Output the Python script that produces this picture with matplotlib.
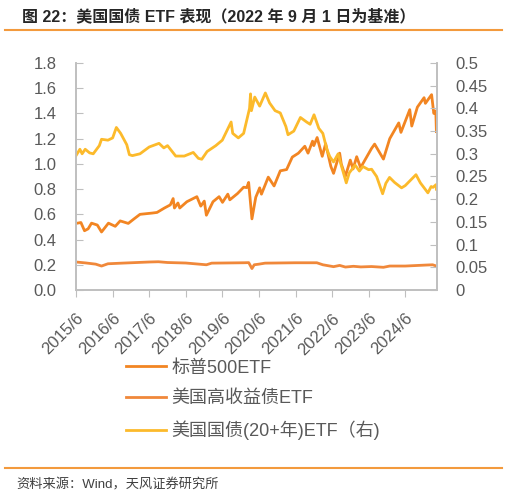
import matplotlib
matplotlib.use("Agg")
import matplotlib.pyplot as plt
import pandas as pd

plt.rcParams['font.family'] = ['Liberation Sans', 'Noto Sans CJK SC', 'DejaVu Sans']

# 标普500ETF（左轴）
spx_dates = ["2015-06-01", "2015-07-20", "2015-08-25", "2015-09-30", "2015-11-03", "2015-12-31",
             "2016-02-11", "2016-04-20", "2016-06-27", "2016-08-15", "2016-11-04", "2016-12-30",
             "2017-03-01", "2017-06-30", "2017-08-18", "2017-10-31", "2017-12-29", "2018-01-26",
             "2018-02-08", "2018-03-15", "2018-04-02", "2018-06-12", "2018-09-20", "2018-10-29",
             "2018-12-03", "2018-12-24", "2019-02-28", "2019-04-30", "2019-06-03", "2019-07-26",
             "2019-08-15", "2019-10-31", "2019-12-31", "2020-01-31", "2020-02-19", "2020-03-23",
             "2020-04-30", "2020-06-08", "2020-06-26", "2020-09-02", "2020-10-30", "2020-12-31",
             "2021-03-04", "2021-04-30", "2021-06-30", "2021-09-02", "2021-10-04", "2021-11-18",
             "2021-12-01", "2022-01-03", "2022-02-23", "2022-03-29", "2022-05-20", "2022-06-16",
             "2022-08-16", "2022-09-01", "2022-10-12", "2022-11-30", "2022-12-28", "2023-02-02",
             "2023-03-13", "2023-06-30", "2023-07-31", "2023-10-27", "2023-12-29", "2024-03-28",
             "2024-04-19", "2024-07-16", "2024-08-05", "2024-09-30", "2024-12-06", "2024-12-19",
             "2025-02-19", "2025-03-13", "2025-04-02", "2025-04-08"]
spx_values = [0.528, 0.535, 0.470, 0.485, 0.530, 0.515,
              0.460, 0.530, 0.505, 0.548, 0.528, 0.563,
              0.600, 0.610, 0.615, 0.650, 0.675, 0.725,
              0.650, 0.690, 0.650, 0.700, 0.740, 0.665,
              0.705, 0.593, 0.700, 0.740, 0.695, 0.760,
              0.715, 0.765, 0.815, 0.812, 0.853, 0.564,
              0.735, 0.810, 0.760, 0.895, 0.825, 0.945,
              0.955, 1.054, 1.085, 1.140, 1.085, 1.180,
              1.145, 1.209, 1.060, 1.160, 0.980, 0.925,
              1.085, 1.000, 0.902, 1.030, 0.960, 1.057,
              0.970, 1.122, 1.157, 1.038, 1.200, 1.325,
              1.250, 1.430, 1.300, 1.450, 1.525, 1.480,
              1.549, 1.400, 1.420, 1.256]

# 美国高收益债ETF（左轴）
hy_dates = ["2015-06-01", "2015-09-01", "2015-12-15", "2016-02-11", "2016-04-15", "2016-09-01",
            "2017-06-01", "2017-09-01", "2017-12-01", "2018-06-01", "2018-12-24", "2019-02-15",
            "2019-12-31", "2020-02-20", "2020-03-23", "2020-04-15", "2020-06-01", "2020-08-01",
            "2021-06-01", "2021-12-31", "2022-03-01", "2022-06-16", "2022-08-16", "2022-10-12",
            "2022-12-31", "2023-03-15", "2023-06-30", "2023-10-27", "2023-12-29", "2024-06-01",
            "2024-12-31", "2025-03-01", "2025-04-08"]
hy_values = [0.222, 0.215, 0.205, 0.190, 0.208, 0.213,
             0.222, 0.224, 0.218, 0.214, 0.200, 0.213,
             0.216, 0.217, 0.170, 0.200, 0.205, 0.213,
             0.216, 0.216, 0.200, 0.185, 0.195, 0.182,
             0.188, 0.183, 0.186, 0.180, 0.190, 0.190,
             0.198, 0.200, 0.190]

# 美国国债(20+年)ETF（右轴）
tlt_dates = ["2015-06-01", "2015-07-10", "2015-08-01", "2015-09-01", "2015-10-15", "2015-11-20",
             "2016-01-20", "2016-02-11", "2016-04-15", "2016-06-01", "2016-07-08", "2016-08-20",
             "2016-10-20", "2016-11-15", "2016-12-15", "2017-03-01", "2017-06-01", "2017-09-07",
             "2017-10-25", "2017-12-01", "2018-02-21", "2018-05-17", "2018-08-15", "2018-10-05",
             "2018-11-08", "2018-12-31", "2019-03-28", "2019-06-01", "2019-08-28", "2019-09-13",
             "2019-11-08", "2019-12-31", "2020-02-28", "2020-03-09", "2020-03-18", "2020-04-20",
             "2020-06-08", "2020-08-04", "2020-09-15", "2020-11-09", "2020-12-31", "2021-02-25",
             "2021-03-18", "2021-05-15", "2021-07-20", "2021-09-20", "2021-10-25", "2021-12-03",
             "2022-01-20", "2022-03-01", "2022-04-10", "2022-05-09", "2022-06-16", "2022-08-01",
             "2022-08-25", "2022-10-21", "2022-11-20", "2023-01-18", "2023-03-01", "2023-04-05",
             "2023-06-01", "2023-07-01", "2023-08-20", "2023-10-19", "2023-11-20", "2023-12-27",
             "2024-02-15", "2024-04-25", "2024-06-01", "2024-09-16", "2024-10-30", "2025-01-13",
             "2025-02-15", "2025-03-05", "2025-04-04", "2025-04-08"]
tlt_values = [0.296, 0.310, 0.300, 0.310, 0.302, 0.300,
              0.318, 0.332, 0.330, 0.335, 0.358, 0.345,
              0.320, 0.298, 0.296, 0.300, 0.315, 0.323,
              0.313, 0.318, 0.295, 0.295, 0.303, 0.290,
              0.288, 0.305, 0.318, 0.330, 0.370, 0.345,
              0.335, 0.345, 0.400, 0.432, 0.395, 0.425,
              0.405, 0.434, 0.412, 0.395, 0.390, 0.360,
              0.342, 0.350, 0.380, 0.370, 0.365, 0.386,
              0.356, 0.345, 0.310, 0.294, 0.282, 0.300,
              0.280, 0.236, 0.258, 0.275, 0.262, 0.272,
              0.265, 0.266, 0.250, 0.212, 0.235, 0.248,
              0.237, 0.225, 0.230, 0.254, 0.236, 0.214,
              0.228, 0.226, 0.232, 0.222]

labels = ["标普500ETF", "美国高收益债ETF", "美国国债(20+年)ETF（右)"]
colors = ["#F28522", "#F0883A", "#FCBA2B"]
tick_years = list(range(2015, 2025))

gray = "#BFBFBF"
txt = "#595959"

fig = plt.figure(figsize=(5.08, 4.97), dpi=100)
ax = fig.add_axes([76 / 508, 1 - 290 / 497, (437 - 76) / 508, (290 - 63) / 497])
ax2 = ax.twinx()

l1, = ax.plot(pd.to_datetime(spx_dates), spx_values, color=colors[0], lw=2.0)
l2, = ax.plot(pd.to_datetime(hy_dates), hy_values, color=colors[1], lw=2.0)
l3, = ax2.plot(pd.to_datetime(tlt_dates), tlt_values, color=colors[2], lw=2.0)

ax.set_xlim(pd.Timestamp("2015-06-01"), pd.Timestamp("2025-04-14"))
ax.set_ylim(0, 1.8)
ax2.set_ylim(0, 0.5)
ax.set_yticks([i * 0.2 for i in range(10)])
ax.set_yticklabels([f"{i * 0.2:.1f}" for i in range(10)])
ax2.set_yticks([i * 0.05 for i in range(11)])
ax2.set_yticklabels(["0"] + [f"{i * 0.05:.2f}".rstrip("0") for i in range(1, 11)])

xt = [pd.Timestamp(f"{y}-06-01") for y in tick_years]
ax.set_xticks(xt)
ax.set_xticklabels([f"{y}/6" for y in tick_years], rotation=45, ha="right", va="top",
                   rotation_mode="anchor")

for a in (ax, ax2):
    a.spines["top"].set_visible(False)
    for s in ("left", "right", "bottom"):
        a.spines[s].set_color(gray)
        a.spines[s].set_linewidth(1.2)
ax.tick_params(axis="y", direction="in", length=5, color=gray, labelcolor=txt, labelsize=12, pad=14)
ax2.tick_params(axis="y", direction="in", length=5, color=gray, labelcolor=txt, labelsize=12, pad=13)
ax.tick_params(axis="x", direction="out", length=5, color=gray, labelcolor=txt, labelsize=12, pad=10)

fig.legend([l1, l2, l3], labels, loc="center left", bbox_to_anchor=(126 / 508, 1 - 400 / 497),
           frameon=False, fontsize=13, handlelength=2.2, handletextpad=0.3,
           labelspacing=0.75, borderpad=0, borderaxespad=0, labelcolor=txt)

# 标题与来源
fig.text(22 / 508, 1 - 16 / 497, "图 22：美国国债 ETF 表现（2022 年 9 月 1 日为基准）",
         fontsize=11.5, fontweight="bold", color="#262626", va="center", ha="left")
fig.add_artist(plt.Line2D([5 / 508, 502 / 508], [1 - 29.5 / 497] * 2, color="#F39A3D", lw=1.5))
fig.add_artist(plt.Line2D([5 / 508, 502 / 508], [1 - 468 / 497] * 2, color="#F39A3D", lw=1.5))
fig.text(16 / 508, 1 - 485 / 497, "资料来源：Wind，天风证券研究所", fontsize=9.5,
         color="#404040", va="center", ha="left")

fig.savefig("out.png", dpi=100)
